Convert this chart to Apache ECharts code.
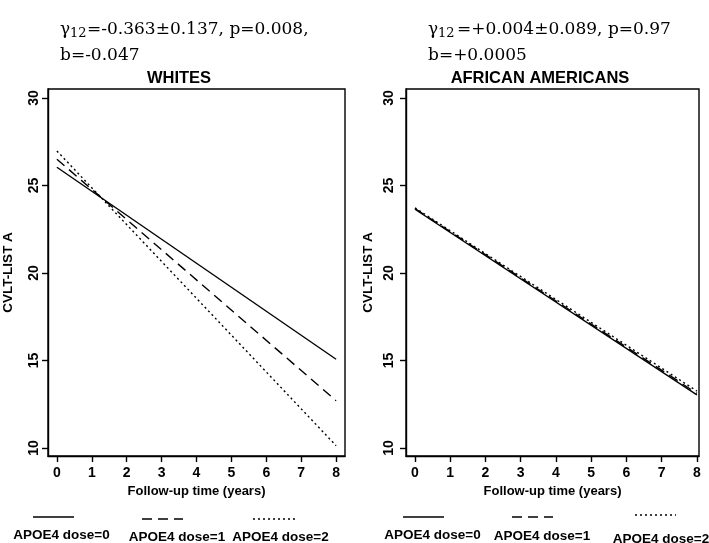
<!DOCTYPE html>
<html>
<head>
<meta charset="utf-8">
<script src="https://cdn.jsdelivr.net/npm/echarts@6/dist/echarts.min.js"></script>
<style>
html,body{margin:0;padding:0;background:#fff;}
#c{width:709px;height:543px;}
</style>
</head>
<body>
<div id="c"></div>
<script>
// ---- data ----
var panelTitles = ['WHITES', 'AFRICAN AMERICANS'];
var xTicks = [0, 1, 2, 3, 4, 5, 6, 7, 8];
var yTicks = [10, 15, 20, 25, 30];
var followUp = [0, 8];
var seriesNames = ['APOE4 dose=0', 'APOE4 dose=1', 'APOE4 dose=2'];
var whitesDose0 = [26.04, 15.07];
var whitesDose1 = [26.50, 12.70];
var whitesDose2 = [26.97, 10.13];
var aaDose0 = [23.64, 13.03];
var aaDose1 = [23.68, 13.12];
var aaDose2 = [23.72, 13.25];
var annotGamma = ['=-0.363\u00b10.137, p=0.008,', '=+0.004\u00b10.089, p=0.97'];
var annotB = ['b=-0.047', 'b=+0.0005'];
var xName = 'Follow-up time (years)';
var yName = 'CVLT-LIST A';

function pairs(xs, ys) { return xs.map(function (x, i) { return [x, ys[i]]; }); }

var black = '#000';
var sans = 'Liberation Sans, Arial, sans-serif';
var serif = 'DejaVu Serif, serif';
var dashStyles = ['solid', [10, 6], [2, 3]];

function xAxisCfg(gi, max) {
  return {
    type: 'value', gridIndex: gi, min: -0.255, max: max,
    splitLine: { show: false },
    axisLine: { show: true, onZero: false, lineStyle: { color: black, width: 1.4 } },
    axisTick: { show: true, length: 6, lineStyle: { color: black, width: 1.4 }, customValues: xTicks },
    axisLabel: { color: black, fontFamily: sans, fontWeight: 'bold', fontSize: 14, margin: 10, customValues: xTicks },
    name: xName, nameLocation: 'middle', nameGap: 25,
    nameTextStyle: { color: black, fontFamily: sans, fontWeight: 'bold', fontSize: 13 }
  };
}
function yAxisCfg(gi, margin, gap) {
  return {
    type: 'value', gridIndex: gi, min: 9.54, max: 30.51,
    splitLine: { show: false },
    axisLine: { show: true, onZero: false, lineStyle: { color: black, width: 1.4 } },
    axisTick: { show: true, length: 6, lineStyle: { color: black, width: 1.4 }, customValues: yTicks },
    axisLabel: { color: black, fontFamily: sans, fontWeight: 'bold', fontSize: 14, rotate: 90, margin: margin, customValues: yTicks },
    name: yName, nameLocation: 'middle', nameGap: gap, nameRotate: 90,
    nameTextStyle: { color: black, fontFamily: sans, fontWeight: 'bold', fontSize: 13.5 }
  };
}
function lineSeries(gi, ys, k) {
  return {
    type: 'line', xAxisIndex: gi, yAxisIndex: gi, name: seriesNames[k],
    data: pairs(followUp, ys), symbol: 'none', silent: true, animation: false,
    lineStyle: { color: black, width: 1.4, type: dashStyles[k] }
  };
}

var graphics = [];
function txt(x, y, s, font, size, align, va, weight) {
  graphics.push({ type: 'text', x: x, y: y, silent: true,
    style: { text: s, fill: black, font: (weight || 'normal') + ' ' + size + 'px ' + font, textAlign: align || 'left', textVerticalAlign: va || 'middle' } });
}
function seg(x1, x2, y, k) {
  graphics.push({ type: 'line', silent: true,
    shape: { x1: x1, y1: y, x2: x2, y2: y },
    style: { stroke: black, lineWidth: 1.4, lineDash: k === 0 ? null : dashStyles[k] } });
}
// annotations
var gx = [60, 428];
for (var i = 0; i < 2; i++) {
  txt(gx[i], 21, '\u03b3', serif, 17, 'left', 'alphabetic');
  txt(gx[i] + 10, 27, '12', serif, 13, 'left', 'alphabetic');
  txt(gx[i] + (i === 0 ? 27 : 29), 21, annotGamma[i], serif, 17, 'left', 'alphabetic');
  txt(gx[i], 47, annotB[i], serif, 17, 'left', 'alphabetic');
}
txt(179, 78, panelTitles[0], sans, 16.5, 'center', 'middle', 'bold');
txt(540, 78, panelTitles[1], sans, 16.5, 'center', 'middle', 'bold');
// legends
var legL = { seg: [[33, 74, 517], [142, 183, 519], [253, 295, 519]], txt: [[61.5, 535.5], [177, 537.5], [280.5, 537.5]] };
var legR = { seg: [[403, 444, 517], [512, 553, 517], [635, 676, 515]], txt: [[432.5, 535.5], [542, 536], [661, 539]] };
[legL, legR].forEach(function (L) {
  for (var k = 0; k < 3; k++) {
    seg(L.seg[k][0], L.seg[k][1], L.seg[k][2], k);
    txt(L.txt[k][0], L.txt[k][1], seriesNames[k], sans, 13.5, 'center', 'middle', 'bold');
  }
});

var chart = echarts.init(document.getElementById('c'), null, { renderer: 'canvas' });
chart.setOption({
  animation: false,
  backgroundColor: '#fff',
  grid: [
    { left: 45, right: 364, top: 89, bottom: 87, show: true, borderColor: black, borderWidth: 1.4, backgroundColor: 'transparent' },
    { left: 406, right: 10, top: 89, bottom: 87, show: true, borderColor: black, borderWidth: 1.4, backgroundColor: 'transparent' }
  ],
  xAxis: [xAxisCfg(0, 8.255), xAxisCfg(1, 8.06)],
  yAxis: [yAxisCfg(0, 7, 33), yAxisCfg(1, 10, 31)],
  series: [
    lineSeries(0, whitesDose0, 0), lineSeries(0, whitesDose1, 1), lineSeries(0, whitesDose2, 2),
    lineSeries(1, aaDose0, 0), lineSeries(1, aaDose1, 1), lineSeries(1, aaDose2, 2)
  ],
  graphic: graphics
});
</script>
</body>
</html>
